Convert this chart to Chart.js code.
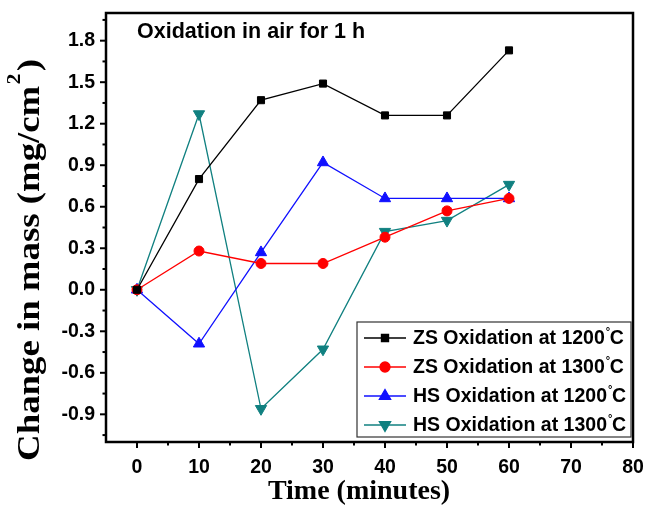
<!DOCTYPE html>
<html>
<head>
<meta charset="utf-8">
<script src="https://cdn.jsdelivr.net/npm/chart.js@4.4.0/dist/chart.umd.min.js"></script>
<style>
  html, body { margin: 0; padding: 0; background: #fff; }
  #wrap { width: 648px; height: 506px; }
</style>
</head>
<body>
<div id="wrap"><canvas id="myChart" width="648" height="506"></canvas></div>
<script>
// data
const times = [0, 10, 20, 30, 40, 50, 60];
const zs1200 = [0, 0.80, 1.37, 1.49, 1.26, 1.26, 1.73];
const zs1300 = [0, 0.28, 0.19, 0.19, 0.38, 0.57, 0.66];
const hs1200 = [0, -0.39, 0.27, 0.92, 0.66, 0.66, 0.66];
const hs1300 = [0, 1.27, -0.86, -0.43, 0.42, 0.50, 0.76];
const seriesNames = ['ZS Oxidation at 1200', 'ZS Oxidation at 1300', 'HS Oxidation at 1200', 'HS Oxidation at 1300'];

const pts = arr => arr.map((v, i) => ({ x: times[i], y: v }));

function makeSet(name, values, color, style, radius, rotation) {
    return {
        label: name,
        data: pts(values),
        borderColor: color,
        backgroundColor: color,
        borderWidth: 1.3,
        pointStyle: style,
        pointRadius: radius,
        pointRotation: rotation || 0,
        pointBorderWidth: 1,
        pointBackgroundColor: color,
        pointBorderColor: color,
        tension: 0,
    };
}

const data = {
    datasets: [
        makeSet(seriesNames[0], zs1200, '#000000', 'rect', 5),
        makeSet(seriesNames[1], zs1300, '#ff0000', 'circle', 5),
        makeSet(seriesNames[2], hs1200, '#1010ff', 'triangle', 6.5),
        makeSet(seriesNames[3], hs1300, '#108080', 'triangle', 6.5, 180),
    ],
};

const sans = '"Liberation Sans", Arial, sans-serif';
const serif = '"Liberation Serif", "Times New Roman", serif';

// frame, minor ticks, axis titles, annotation, legend
const decor = {
    id: 'decor',
    afterDraw(chart) {
        const ctx = chart.ctx;
        const a = chart.chartArea;
        const xs = chart.scales.x, ys = chart.scales.y;
        ctx.save();
        ctx.strokeStyle = '#000';
        ctx.lineWidth = 2.5;
        ctx.strokeRect(a.left, a.top, a.right - a.left, a.bottom - a.top);

        // y ticks
        ctx.lineWidth = 2;
        for (let k = -7; k <= 13; k++) {
            const v = k * 0.15;
            const py = ys.getPixelForValue(v);
            if (py < a.top || py > a.bottom) continue;
            const len = k % 2 === 0 ? 6 : 3.5;
            ctx.beginPath();
            ctx.moveTo(a.left - len, py);
            ctx.lineTo(a.left, py);
            ctx.stroke();
        }
        // x ticks
        for (let v = 0; v <= 80; v += 5) {
            const px = xs.getPixelForValue(v);
            const len = v % 10 === 0 ? 6 : 3.5;
            ctx.beginPath();
            ctx.moveTo(px, a.bottom);
            ctx.lineTo(px, a.bottom + len);
            ctx.stroke();
        }

        // axis titles
        ctx.fillStyle = '#000';
        ctx.font = 'bold 28px ' + serif;
        ctx.textAlign = 'center';
        ctx.textBaseline = 'middle';
        ctx.fillText('Time (minutes)', 359, 492);

        ctx.save();
        ctx.translate(29, 260);
        ctx.rotate(-Math.PI / 2);
        ctx.scale(1.15, 1);
        ctx.textAlign = 'left';
        ctx.textBaseline = 'alphabetic';
        const main = 'Change in mass (mg/cm';
        ctx.font = 'bold 32px ' + serif;
        const w1 = ctx.measureText(main).width;
        const wp = ctx.measureText(')').width;
        ctx.font = 'bold 19px ' + serif;
        const w2 = ctx.measureText('2').width;
        const x0 = -(w1 + w2 + 3 + wp) / 2;
        ctx.font = 'bold 32px ' + serif;
        ctx.fillText(main, x0, 10);
        ctx.font = 'bold 19px ' + serif;
        ctx.fillText('2', x0 + w1 + 1, -9);
        ctx.font = 'bold 32px ' + serif;
        ctx.fillText(')', x0 + w1 + w2 + 3, 10);
        ctx.restore();

        // annotation
        ctx.font = 'bold 21.5px ' + sans;
        ctx.textAlign = 'left';
        ctx.textBaseline = 'middle';
        ctx.fillText('Oxidation in air for 1 h', 137, 32);

        // legend box
        const bx = 357, by = 322, bw = 274, bh = 115;
        ctx.fillStyle = '#fff';
        ctx.fillRect(bx, by, bw, bh);
        ctx.strokeStyle = '#333';
        ctx.lineWidth = 1.2;
        ctx.strokeRect(bx, by, bw, bh);
        const rows = [338, 367, 396, 425];
        chart.data.datasets.forEach((ds, i) => {
            const y = rows[i];
            ctx.strokeStyle = ds.borderColor;
            ctx.fillStyle = ds.borderColor;
            ctx.lineWidth = 1.3;
            ctx.beginPath();
            ctx.moveTo(364, y);
            ctx.lineTo(406, y);
            ctx.stroke();
            Chart.helpers.drawPoint(ctx, {
                pointStyle: ds.pointStyle,
                radius: ds.pointRadius,
                rotation: ds.pointRotation,
                borderWidth: 1,
            }, 385, y);
            ctx.fillStyle = '#000';
            ctx.font = 'bold 19.5px ' + sans;
            ctx.textAlign = 'left';
            ctx.textBaseline = 'middle';
            const t = ds.label;
            ctx.fillText(t, 413, y + 1);
            const w = ctx.measureText(t).width;
            ctx.font = 'bold 11px ' + sans;
            ctx.fillText('\u00B0', 413 + w + 1, y - 6);
            ctx.font = 'bold 19.5px ' + sans;
            ctx.fillText('C', 413 + w + 5, y + 1);
        });
        ctx.restore();
    },
};

const tickFont = { family: sans, size: 19.5, weight: 'bold' };

const config = {
    type: 'line',
    data: data,
    options: {
        responsive: false,
        animation: false,
        layout: { padding: { top: 13, right: 15, left: 0, bottom: 0 } },
        plugins: {
            legend: { display: false },
            tooltip: { enabled: false },
        },
        scales: {
            x: {
                type: 'linear',
                min: -5,
                max: 80,
                grid: { display: false, drawTicks: false },
                border: { display: false },
                ticks: {
                    stepSize: 10,
                    includeBounds: false,
                    color: '#000',
                    font: tickFont,
                    padding: 14,
                    maxRotation: 0,
                },
                afterFit: s => { s.height = 64; s.paddingLeft = 0; s.paddingRight = 0; },
            },
            y: {
                type: 'linear',
                min: -1.1,
                max: 2.0,
                grid: { display: false, drawTicks: false },
                border: { display: false },
                ticks: {
                    stepSize: 0.3,
                    includeBounds: false,
                    color: '#000',
                    font: tickFont,
                    padding: 11,
                    callback: v => (Math.abs(v) < 1e-9 ? 0 : v).toFixed(1),
                },
                afterFit: s => { s.width = 106; s.paddingTop = 0; s.paddingBottom = 0; },
            },
        },
    },
    plugins: [decor],
};

const ctx = document.getElementById('myChart').getContext('2d');
const myChart = new Chart(ctx, config);
</script>
</body>
</html>
